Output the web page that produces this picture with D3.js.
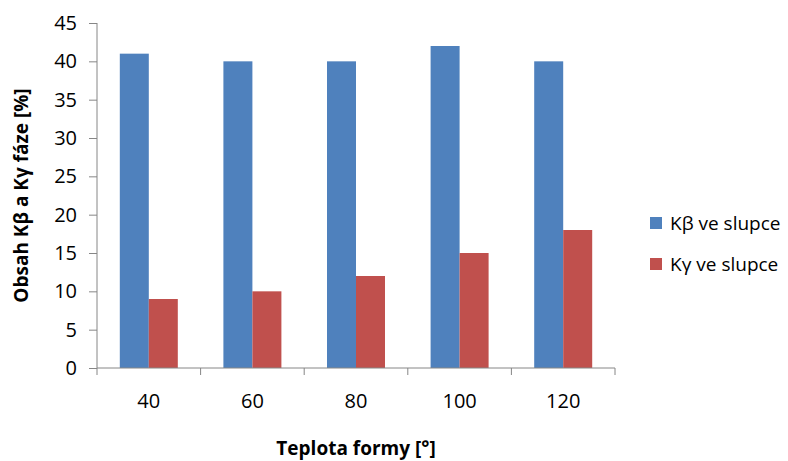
<!DOCTYPE html>
<html>
<head>
<meta charset="utf-8">
<script src="https://cdn.jsdelivr.net/npm/d3@7"></script>
<style>
  body { margin: 0; background: #fff; }
  text { font-family: "Open Sans", sans-serif; fill: #000; }
</style>
</head>
<body>
<div id="chart-area"></div>
<script>
// data
var categories = ["40", "60", "80", "100", "120"];
var seriesNames = ["K\u03b2 ve slupce", "K\u03b3 ve slupce"];
var kBeta = [41, 40, 40, 42, 40];
var kGamma = [9, 10, 12, 15, 18];
var yTicks = [0, 5, 10, 15, 20, 25, 30, 35, 40, 45];
var colors = ["#4F81BD", "#C0504D"];

var margin = { top: 23, right: 173, bottom: 93, left: 97 };
var width = 788 - margin.left - margin.right;
var height = 461 - margin.top - margin.bottom;

var svg = d3.select("#chart-area")
    .append("svg")
        .attr("width", 788)
        .attr("height", 461);

var group = svg.append("g")
    .attr("transform", "translate(" + margin.left + ", " + margin.top + ")");

// X Scale
var x = d3.scaleBand()
    .domain(categories)
    .range([0, width]);

var x1 = d3.scaleBand()
    .domain([0, 1])
    .range([x.bandwidth() / 2 - 29, x.bandwidth() / 2 + 29]);

// Y Scale
var y = d3.scaleLinear()
    .domain([0, 45])
    .range([height, 0]);

// bars
var rows = categories.map(function(c, i) {
    return { cat: c, values: [kBeta[i], kGamma[i]] };
});

var bars = group.selectAll(".cat")
    .data(rows)
    .enter()
    .append("g")
        .attr("class", "cat")
        .attr("transform", function(d) { return "translate(" + x(d.cat) + ",0)"; });

bars.selectAll("rect")
    .data(function(d) { return d.values.map(function(v, j) { return { s: j, v: v }; }); })
    .enter()
    .append("rect")
        .attr("x", function(d) { return x1(d.s); })
        .attr("y", function(d) { return y(d.v); })
        .attr("width", x1.bandwidth())
        .attr("height", function(d) { return height - y(d.v); })
        .attr("fill", function(d) { return colors[d.s]; });

// Y axis
var yAxis = group.append("g")
    .call(d3.axisLeft(y).tickValues(yTicks).tickSize(8).tickPadding(12));
yAxis.attr("font-size", 20).attr("font-family", "Open Sans, sans-serif");
yAxis.selectAll("line, path").attr("stroke", "#868686");
yAxis.select("path").attr("d", "M0,0V" + height);
yAxis.selectAll("text").style("font-size", "20px").attr("fill", "#222");

// X axis
var xAxisGroup = group.append("g")
    .attr("transform", "translate(0, " + height + ")")
    .call(d3.axisBottom(x).tickSize(0).tickPadding(26));
xAxisGroup.attr("font-size", 20).attr("font-family", "Open Sans, sans-serif");
xAxisGroup.select("path").attr("stroke", "#868686").attr("d", "M0,0H" + width);
xAxisGroup.selectAll("text").style("font-size", "20px").attr("fill", "#222");

// category separators
group.selectAll(".sep")
    .data(d3.range(categories.length + 1))
    .enter()
    .append("line")
        .attr("class", "sep")
        .attr("x1", function(i) { return i * x.step(); })
        .attr("x2", function(i) { return i * x.step(); })
        .attr("y1", height)
        .attr("y2", height + 7)
        .attr("stroke", "#868686");

// X Label
group.append("text")
    .attr("x", width / 2)
    .attr("y", height + 87)
    .style("font-size", "19px")
    .attr("font-weight", "bold")
    .attr("text-anchor", "middle")
    .text("Teplota formy [\u00b0]");

// Y Label
group.append("text")
    .attr("x", -(height / 2))
    .attr("y", -69)
    .style("font-size", "19px")
    .attr("font-weight", "bold")
    .attr("text-anchor", "middle")
    .attr("transform", "rotate(-90)")
    .text("Obsah K\u03b2 a K\u03b3 f\u00e1ze [%]");

// Legend
var legend = svg.selectAll(".legend")
    .data(seriesNames)
    .enter()
    .append("g")
        .attr("class", "legend")
        .attr("transform", function(d, i) { return "translate(650," + (217 + i * 41) + ")"; });

legend.append("rect")
    .attr("width", 12)
    .attr("height", 12)
    .attr("fill", function(d, i) { return colors[i]; });

legend.append("text")
    .attr("x", 20)
    .attr("y", 6)
    .attr("dy", "0.35em")
    .style("font-size", "19px")
    .attr("fill", "#222")
    .text(function(d) { return d; });
</script>
</body>
</html>
